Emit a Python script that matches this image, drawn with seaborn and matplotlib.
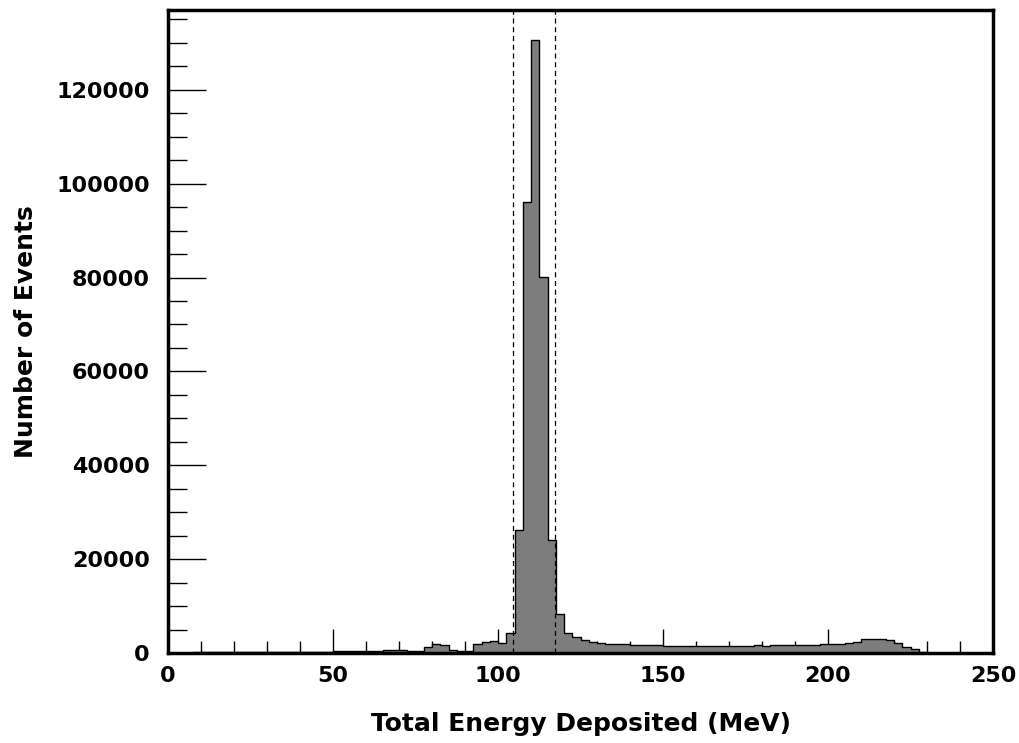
import numpy as np
import pandas as pd
import matplotlib
matplotlib.use("Agg")
import matplotlib.pyplot as plt
import seaborn as sns
from matplotlib.ticker import MultipleLocator

# ---- data (bin width 2.5 MeV, 0-250 MeV) ----
bin_edges = [2.5 * i for i in range(101)]
counts = [
    50, 80, 100, 120,                                  # 0-10
    150, 150, 170, 180, 200, 200, 220, 220,            # 10-30
    250, 250, 260, 280, 300, 300, 320, 320,            # 30-50
    350, 350, 380, 400, 420, 450,                      # 50-65
    600, 700, 650, 500, 450,                           # 65-77.5
    1200, 1900, 1800, 700, 400, 500,                   # 77.5-92.5
    2000, 2400, 2500, 2100, 4300,                      # 92.5-105
    26200, 96000, 130700, 80100, 24100, 8300,          # 105-120
    4300, 3500, 2800, 2400, 2100, 2000,                # 120-135
    1900, 1850, 1800, 1750, 1700, 1650,                # 135-150
    1600, 1550, 1500, 1500, 1550, 1500, 1500, 1550, 1600, 1550,
    1600, 1650, 1600, 1650, 1650, 1700, 1700, 1750, 1800, 1850,  # 150-200
    1900, 2000, 2100, 2300,                            # 200-210
    2900, 3000, 2950, 2800,                            # 210-220
    2100, 1300, 800, 300,                              # 220-230
    100, 60, 40, 30, 20, 10, 10, 5,                    # 230-250
]
cut_lines = [104.5, 117.4]
x_ticks = [0, 50, 100, 150, 200, 250]
y_ticks = [0, 20000, 40000, 60000, 80000, 100000, 120000]
x_label = "Total Energy Deposited (MeV)"
y_label = "Number of Events"

bin_centers = [(a + b) / 2 for a, b in zip(bin_edges[:-1], bin_edges[1:])]
df = pd.DataFrame({"energy": bin_centers, "count": counts})

sns.set_style("ticks")
plt.rcParams["font.family"] = ["DejaVu Sans"]
plt.rcParams["font.weight"] = "bold"
plt.rcParams["text.color"] = "black"
plt.rcParams["axes.labelcolor"] = "black"
plt.rcParams["xtick.color"] = "black"
plt.rcParams["ytick.color"] = "black"
plt.rcParams["axes.edgecolor"] = "black"

fig = plt.figure(figsize=(10.19, 7.43), dpi=100)
ax = fig.add_axes([0.1649, 0.1211, 0.8096, 0.8654])

sns.histplot(data=df, x="energy", weights="count", bins=bin_edges,
             element="step", fill=True, color="#7d7d7d", edgecolor="black",
             linewidth=1.0, alpha=1.0, ax=ax)

for c in cut_lines:
    ax.axvline(c, color="black", linestyle=(0, (4, 3)), linewidth=0.9)

ax.set_xlim(0, 250)
ax.set_ylim(0, 137000)
ax.set_xticks(x_ticks)
ax.set_yticks(y_ticks)
ax.xaxis.set_minor_locator(MultipleLocator(10))
ax.yaxis.set_minor_locator(MultipleLocator(5000))
ax.tick_params(axis="both", which="major", direction="in", labelsize=16,
               width=1, colors="black")
ax.tick_params(axis="y", which="major", length=27, pad=13)
ax.tick_params(axis="x", which="major", length=17, pad=9)
ax.tick_params(axis="y", which="minor", direction="in", length=14, width=1)
ax.tick_params(axis="x", which="minor", direction="in", length=9, width=1)
for lab in ax.get_xticklabels() + ax.get_yticklabels():
    lab.set_fontweight("bold")

for s in ax.spines.values():
    s.set_linewidth(2.5)
    s.set_color("black")
    s.set_visible(True)

ax.set_xlabel(x_label, fontsize=18, fontweight="bold", labelpad=19)
ax.set_ylabel(y_label, fontsize=18, fontweight="bold", labelpad=13)

fig.savefig("out.png", dpi=100)
